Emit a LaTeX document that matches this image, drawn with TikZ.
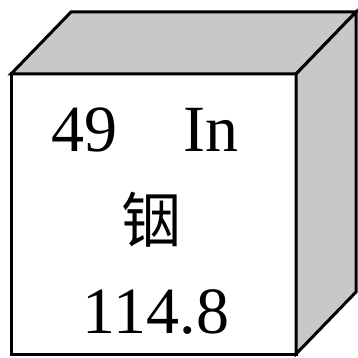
\documentclass[tikz,border=0pt]{standalone}
\usepackage{fontspec}
\setmainfont{Liberation Serif}
\newfontfamily\cjk{Noto Sans CJK SC}
\definecolor{facegray}{RGB}{200,200,200}
\tikzset{
  edge/.style={draw=black, line width=3pt, line join=miter},
  bigtext/.style={inner sep=0pt, font=\fontsize{66}{66}\selectfont}
}
\begin{document}
\begin{tikzpicture}[x=1pt, y=-1pt]
\useasboundingbox (0,0) rectangle (358,358);
% faces
\coordinate (fa) at (11,74);
\coordinate (fb) at (296,74);
\coordinate (fc) at (296,354);
\coordinate (fd) at (11,354);
\coordinate (ba) at (71,12);
\coordinate (bb) at (356,12);
\coordinate (bc) at (356,292);
\path[edge, fill=white] (fa) -- (fb) -- (fc) -- (fd) -- cycle;
\path[edge, fill=facegray] (fa) -- (ba) -- (bb) -- (fb) -- cycle;
\path[edge, fill=facegray] (fb) -- (bb) -- (bc) -- (fc) -- cycle;
% texts
\node[bigtext, anchor=base west] (num) at (51,152) {49};
\node[bigtext, anchor=base west] (sym) at (183,152) {In};
\node[bigtext, font=\cjk\fontsize{60}{60}\selectfont] (name) at (151,220) {铟};
\node[bigtext, anchor=base] (mass) at (156,333) {114.8};
\end{tikzpicture}
\end{document}
